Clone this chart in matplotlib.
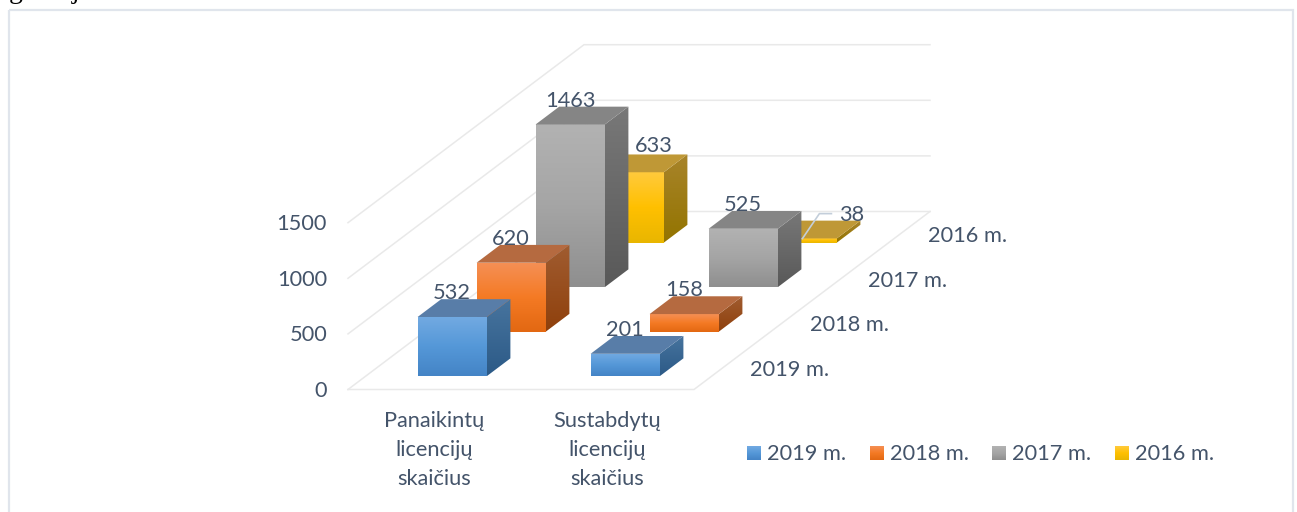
import matplotlib
matplotlib.use("Agg")
import matplotlib.pyplot as plt
import numpy as np
from matplotlib.colors import LinearSegmentedColormap
from matplotlib.patches import Polygon, Rectangle

# data
categories = ["Panaikintų\nlicencijų\nskaičius", "Sustabdytų\nlicencijų\nskaičius"]
years = ["2019 m.", "2018 m.", "2017 m.", "2016 m."]
values = {
    "2019 m.": [532, 201],
    "2018 m.": [620, 158],
    "2017 m.": [1463, 525],
    "2016 m.": [633, 38],
}
axis_ticks = [0, 500, 1000, 1500]
wall_ticks = [0, 500, 1000, 1500]

# colours: front top/mid/bottom, roof, side top/bottom
front_cols = {
    "2019 m.": ["#72aae2", "#5598d8", "#4484c6"],
    "2018 m.": ["#f58f54", "#f47a24", "#e36812"],
    "2017 m.": ["#b2b2b2", "#a5a5a5", "#8f8f8f"],
    "2016 m.": ["#ffca3c", "#ffc000", "#e9b600"],
}
roof_cols = {"2019 m.": "#587da8", "2018 m.": "#b56a40", "2017 m.": "#858585", "2016 m.": "#bf9836"}
side_cols = {
    "2019 m.": ["#47749e", "#2c5a87"],
    "2018 m.": ["#a05c30", "#8f400c"],
    "2017 m.": ["#787878", "#595959"],
    "2016 m.": ["#a8842a", "#937400"],
}
text_col = "#44546a"
grid_col = "#e9e9e9"

# oblique projection, in picture pixels
X0, Y0 = 348, 389.5
CAT_W = 173
DEPTH_X, DEPTH_Y = 59, 44.5
VAL_Y = 0.1112


def proj(cat, depth, val):
    return X0 + CAT_W * cat + DEPTH_X * depth, Y0 - DEPTH_Y * depth - VAL_Y * val


def grad_face(ax, pts, cols, z):
    pts = np.array(pts)
    cmap = LinearSegmentedColormap.from_list("f", cols)
    grad = np.linspace(0, 1, 64).reshape(-1, 1)
    im = ax.imshow(grad, cmap=cmap, aspect="auto", zorder=z, interpolation="bilinear",
                   extent=(pts[:, 0].min(), pts[:, 0].max(), pts[:, 1].max(), pts[:, 1].min()))
    im.set_clip_path(Polygon(pts, closed=True, transform=ax.transData))


plt.rcParams["font.family"] = ["Lato", "DejaVu Sans"]
fig = plt.figure(figsize=(12.97, 5.12), dpi=100)
ax = fig.add_axes([0, 0, 1, 1])

# chart frame
ax.add_patch(Rectangle((9, 10), 1284, 600, fill=False, ec="#e0e5ec", lw=1.6, zorder=1))

# floor and wall lines
n_depth = len(years)
for t in wall_ticks:
    ax.plot(*zip(proj(0, 0, t), proj(0, n_depth, t), proj(2, n_depth, t)), color=grid_col, lw=1.1, zorder=2)
ax.plot(*zip(proj(0, 0, 0), proj(2, 0, 0), proj(2, n_depth, 0)), color=grid_col, lw=1.1, zorder=2)

# bars, back to front
z = 3
for d in range(n_depth - 1, -1, -1):
    y = years[d]
    for c in range(len(categories)):
        v = values[y][c]
        c0, c1, d0, d1 = c + 0.3, c + 0.7, d + 0.3, d + 0.7
        grad_face(ax, [proj(c0, d0, 0), proj(c1, d0, 0), proj(c1, d0, v), proj(c0, d0, v)], front_cols[y], z)
        grad_face(ax, [proj(c1, d0, 0), proj(c1, d1, 0), proj(c1, d1, v), proj(c1, d0, v)], side_cols[y], z)
        ax.add_patch(Polygon([proj(c0, d0, v), proj(c1, d0, v), proj(c1, d1, v), proj(c0, d1, v)],
                             fc=roof_cols[y], ec="none", zorder=z))
        z += 1

# leader line of the small 2016 value
lx, ly = proj(1.7, 3.7, values["2016 m."][1])
ax.plot([lx - 58, lx - 41, lx - 29], [ly + 18, ly - 7, ly - 7], color="#c3ceda", lw=1.2, zorder=z)
z += 1

# data labels
fs = 15.7
label_shift = {("2016 m.", 0): (25, -2), ("2016 m.", 1): (50, 0)}
for d, y in enumerate(years):
    for c in range(len(categories)):
        v = values[y][c]
        x, yy = proj(c + 0.5, d + 0.5, v)
        dx, dy = label_shift.get((y, c), (0, 0))
        ax.text(x - 12 + dx, yy - 15 + dy, str(v), color=text_col, fontsize=fs, ha="center", va="center", zorder=z)

# axis labels
for t in axis_ticks:
    x, yy = proj(0, 0, t)
    ax.text(x - 21, yy + 1.5, str(t), color=text_col, fontsize=fs, ha="right", va="center", zorder=z)
for c, name in enumerate(categories):
    x, yy = proj(c + 0.5, 0, 0)
    ax.text(x, yy + 60.5, name, color=text_col, fontsize=fs, ha="center", va="center", linespacing=1.58, zorder=z)
for d, y in enumerate(years):
    x, yy = proj(2, d + 0.5, 0)
    ax.text(x + 27, yy + 2.5, y, color=text_col, fontsize=fs, ha="left", va="center", zorder=z)

# legend
leg_x = [747, 870, 992, 1115]
for lx, y in zip(leg_x, years):
    grad_face(ax, [(lx, 446), (lx + 14, 446), (lx + 14, 460), (lx, 460)], front_cols[y], z)
    ax.text(lx + 20, 453.5, y, color=text_col, fontsize=fs, ha="left", va="center", zorder=z)

# cut-off line of body text above the chart
ax.text(16, -2, "g", family="Liberation Serif", color="black", fontsize=20, ha="center", va="baseline")
ax.text(76, -2, "j", family="Liberation Serif", color="black", fontsize=20, ha="center", va="baseline")

ax.set_xlim(0, 1297)
ax.set_ylim(512, 0)
ax.axis("off")
fig.savefig("out.png", dpi=100)
